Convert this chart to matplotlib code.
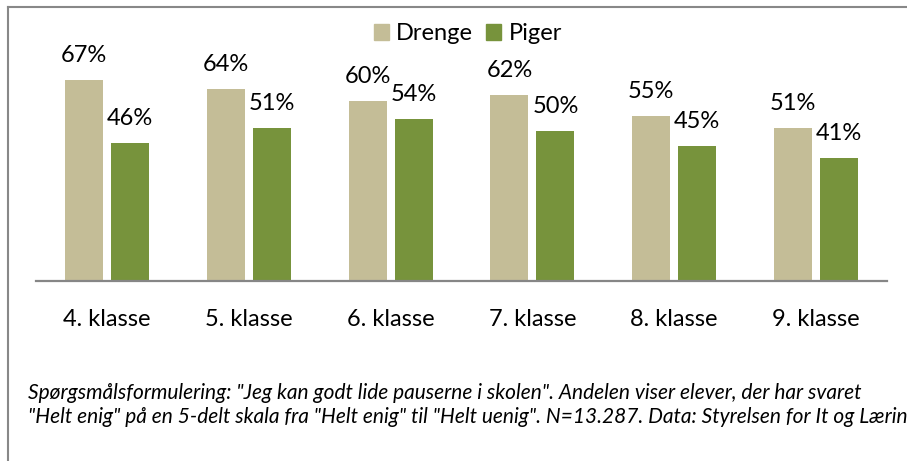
import matplotlib
matplotlib.use("Agg")
import matplotlib.pyplot as plt
from matplotlib.lines import Line2D
from matplotlib.patches import Patch
import numpy as np

categories = ["4. klasse", "5. klasse", "6. klasse", "7. klasse", "8. klasse", "9. klasse"]
drenge = [67, 64, 60, 62, 55, 51]
piger = [46, 51, 54, 50, 45, 41]
series_names = ["Drenge", "Piger"]
caption_lines = [
    'Spørgsmålsformulering: "Jeg kan godt lide pauserne i skolen". Andelen viser elever, der har svaret',
    '"Helt enig" på en 5-delt skala fra "Helt enig" til "Helt uenig". N=13.287. Data: Styrelsen for It og Læring',
]

plt.rcParams['font.family'] = ['Lato', 'DejaVu Sans']
W, H = 907, 461
fig = plt.figure(figsize=(W / 100, H / 100), dpi=100)

c_dr = "#C4BD97"
c_pi = "#77933C"

ax = fig.add_axes([36 / W, (H - 281) / H, (887 - 36) / W, 240 / H])
x = np.arange(len(categories))
bw = 0.268
off = 0.162
b1 = ax.bar(x - off, drenge, bw, color=c_dr)
b2 = ax.bar(x + off, piger, bw, color=c_pi)
ax.set_ylim(0, 80)
ax.set_xlim(-0.5, len(categories) - 0.5)
for bars, vals in ((b1, drenge), (b2, piger)):
    for r, v in zip(bars, vals):
        ax.annotate(f"{v}%", (r.get_x() + r.get_width() / 2, v), xytext=(0, 13),
                    textcoords="offset points", ha="center", va="baseline", fontsize=17)
for s in ("top", "right", "left"):
    ax.spines[s].set_visible(False)
ax.spines["bottom"].set_color("#868686")
ax.spines["bottom"].set_linewidth(1.6)
ax.set_yticks([])
ax.set_xticks(x)
ax.set_xticklabels(categories, fontsize=17)
ax.tick_params(axis="x", length=0, pad=20)

handles = [Patch(color=c_dr), Patch(color=c_pi)]
fig.legend(handles, series_names, loc="center", bbox_to_anchor=(468 / W, 1 - 34 / H), ncol=2,
           frameon=False, fontsize=17, handlelength=0.64, handleheight=0.64, handletextpad=0.3,
           columnspacing=0.55)

for i, line in enumerate(caption_lines):
    fig.text(28 / W, 1 - (399 + 24 * i) / H, line, style="italic", fontsize=15, va="baseline", ha="left")

fig.add_artist(Line2D([8 / W, 1], [1 - 7 / H, 1 - 7 / H], transform=fig.transFigure, color="#888888", lw=1.5))
fig.add_artist(Line2D([8 / W, 8 / W], [1 - 7 / H, 0], transform=fig.transFigure, color="#888888", lw=1.5))

fig.savefig("out.png", dpi=100)
